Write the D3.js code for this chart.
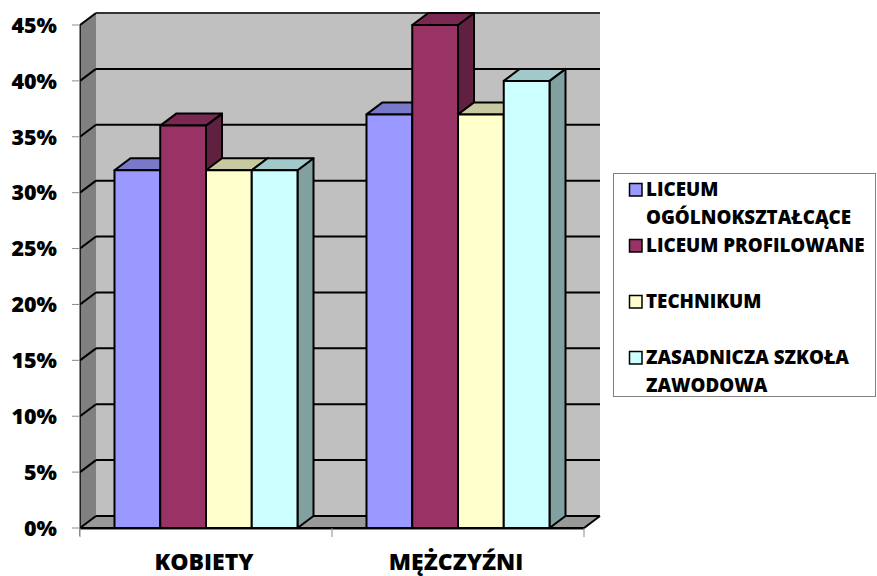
<!DOCTYPE html>
<html><head><meta charset="utf-8">
<script src="https://cdn.jsdelivr.net/npm/d3@7"></script>
<style>
body{margin:0;background:#fff}
text{font-family:"Open Sans",sans-serif;font-weight:800;fill:#000}
</style>
</head><body><svg id="c" width="877" height="576"></svg>
<script>
const categories = ["KOBIETY", "MĘŻCZYŹNI"];
const seriesNames = ["LICEUM OGÓLNOKSZTAŁCĄCE", "LICEUM PROFILOWANE", "TECHNIKUM", "ZASADNICZA SZKOŁA ZAWODOWA"];
const seriesColors = ["#9999FF", "#993366", "#FFFFCC", "#CCFFFF"];
const valuesKobiety = [32, 36, 32, 32];
const valuesMezczyzni = [37, 45, 37, 40];
const yTicks = [0, 5, 10, 15, 20, 25, 30, 35, 40, 45];

const data = [valuesKobiety, valuesMezczyzni];
const svg = d3.select("#c");

const DX = 16, DY = -12;
const y = d3.scaleLinear().domain([0, 45]).range([528, 25]);
const x0 = d3.scaleBand().domain(categories).range([80, 584]);
const x1 = d3.scaleBand().domain(seriesNames).range([0, x0.bandwidth()]).paddingInner(0).paddingOuter(0.754);
const xL = x0.range()[0], xR = x0.range()[1];
const yTop = y(45), yBot = y(0);

function shade(c, k) { const r = d3.rgb(c); return d3.rgb(r.r * k, r.g * k, r.b * k).formatHex(); }
const pts = a => a.map(p => p.join(",")).join(" ");

// walls
svg.append("polygon").attr("points", pts([[xL, yTop], [xL + DX, yTop + DY], [xL + DX, yBot + DY], [xL, yBot]]))
  .attr("fill", "#808080");
svg.append("rect").attr("x", xL + DX).attr("y", yTop + DY).attr("width", xR - xL).attr("height", yBot - yTop)
  .attr("fill", "#C0C0C0");
svg.append("polygon").attr("points", pts([[xL, yBot], [xR, yBot], [xR + DX, yBot + DY], [xL + DX, yBot + DY]]))
  .attr("fill", "#999999");

// gridlines
yTicks.forEach(t => {
  const yy = y(t);
  svg.append("line").attr("x1", xL + DX).attr("x2", xR + DX).attr("y1", yy + DY).attr("y2", yy + DY)
    .attr("stroke", t === 45 ? "#333" : "#000").attr("stroke-width", 2);
  svg.append("line").attr("x1", xL).attr("x2", xL + DX).attr("y1", yy).attr("y2", yy + DY)
    .attr("stroke", "#000").attr("stroke-width", 2);
});
svg.append("line").attr("x1", xL).attr("x2", xL).attr("y1", yTop).attr("y2", yBot)
  .attr("stroke", "#000").attr("stroke-width", 1.5);

// bars
categories.forEach((cat, ci) => {
  seriesNames.forEach((s, si) => {
    const v = data[ci][si];
    const bx = x0(cat) + x1(s), bw = x1.bandwidth(), by = y(v);
    const g = svg.append("g").attr("stroke", "#000").attr("stroke-width", 2).attr("stroke-linejoin", "round");
    g.append("polygon").attr("points", pts([[bx + bw, by], [bx + bw + DX, by + DY], [bx + bw + DX, yBot + DY], [bx + bw, yBot]]))
      .attr("fill", shade(seriesColors[si], 0.63));
    g.append("polygon").attr("points", pts([[bx, by], [bx + DX, by + DY], [bx + bw + DX, by + DY], [bx + bw, by]]))
      .attr("fill", shade(seriesColors[si], 0.79));
    g.append("rect").attr("x", bx).attr("y", by).attr("width", bw).attr("height", yBot - by)
      .attr("fill", seriesColors[si]);
  });
});

// front floor edges
svg.append("polyline").attr("points", pts([[xL, yBot], [xR, yBot], [xR + DX, yBot + DY]]))
  .attr("fill", "none").attr("stroke", "#000").attr("stroke-width", 2);

// axes (gray)
const ax = svg.append("g").attr("stroke", "#8a8a8a").attr("stroke-width", 1);
ax.append("line").attr("x1", xL - 0.5).attr("x2", xL - 0.5).attr("y1", yTop).attr("y2", yBot + 8);
ax.append("line").attr("x1", xL).attr("x2", xR).attr("y1", yBot + 1.5).attr("y2", yBot + 1.5);
yTicks.forEach(t => ax.append("line").attr("x1", xL - 8).attr("x2", xL).attr("y1", y(t)).attr("y2", y(t)));
[xL, x0(categories[1]), xR].forEach(xx => ax.append("line").attr("x1", xx).attr("x2", xx).attr("y1", yBot).attr("y2", yBot + 9));

// y labels
svg.append("g").selectAll("text").data(yTicks).join("text")
  .attr("x", 57).attr("y", d => y(d)).attr("dy", "0.36em").attr("text-anchor", "end")
  .attr("font-size", 21.5).text(d => d + "%");

// category labels
svg.append("g").selectAll("text").data(categories).join("text")
  .attr("x", d => x0(d) + x0.bandwidth() / 2 - 2).attr("y", 570).attr("text-anchor", "middle")
  .attr("font-size", 23).text(d => d);

// legend
const lg = svg.append("g");
lg.append("rect").attr("x", 613.5).attr("y", 173.5).attr("width", 262).attr("height", 223)
  .attr("fill", "#fff").attr("stroke", "#808080").attr("stroke-width", 1);
const maxW = 228;
seriesNames.forEach((s, i) => {
  const base = 196 + i * 56;
  lg.append("rect").attr("x", 629.5).attr("y", base - 12.5).attr("width", 12.5).attr("height", 12.5)
    .attr("fill", seriesColors[i]).attr("stroke", "#000").attr("stroke-width", 1.5);
  const t = lg.append("text").attr("x", 646).attr("y", base).attr("font-size", 18.8);
  const words = s.split(" ");
  let line = [], lineNo = 0;
  let ts = t.append("tspan").attr("x", 646).attr("y", base);
  words.forEach(w => {
    line.push(w);
    ts.text(line.join(" "));
    if (ts.node().getComputedTextLength() > maxW && line.length > 1) {
      line.pop(); ts.text(line.join(" "));
      line = [w]; lineNo++;
      ts = t.append("tspan").attr("x", 646).attr("y", base + lineNo * 28).text(w);
    }
  });
});
</script>
</body></html>
